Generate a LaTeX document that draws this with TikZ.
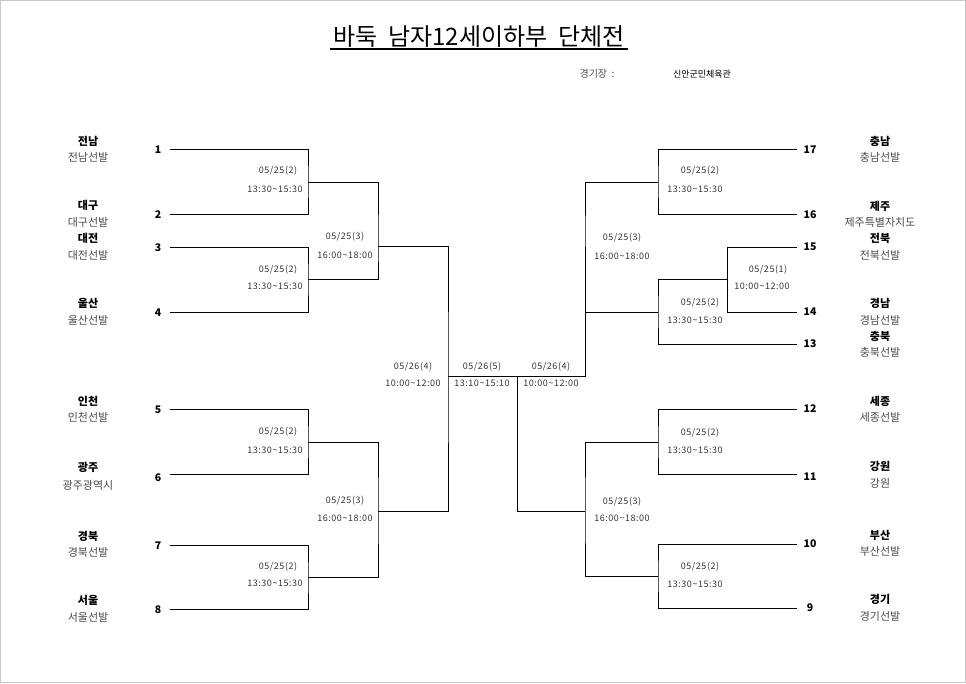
\documentclass[tikz,border=0pt]{standalone}
\usepackage{fontspec}
\setmainfont{Noto Sans CJK KR}
\newfontfamily\matchfont[LetterSpace=6]{Noto Sans CJK KR}
\definecolor{subgray}{HTML}{4A4A4A}
\definecolor{labgray}{HTML}{333333}
\definecolor{framegray}{HTML}{C8C8C8}
\newcommand{\tl}{\textasciitilde}
\tikzset{
  br/.style={line width=0.9pt, line cap=rect},
  team/.style={font=\fontsize{11}{13}\selectfont\bfseries, inner sep=0pt},
  sub/.style={font=\fontsize{11}{13}\selectfont, text=subgray, inner sep=0pt},
  num/.style={font=\fontsize{10.5}{12}\selectfont\bfseries, inner sep=0pt},
  mlab/.style={font=\matchfont\fontsize{9}{10}\selectfont, text=labgray, inner sep=0pt},
}
\begin{document}
\begin{tikzpicture}[x=1pt,y=-1pt]
\useasboundingbox (0,0) rectangle (966,683);
\draw[framegray, line width=1pt] (0.5,0.5) rectangle (965.5,682.5);

% title
\node[font=\fontsize{24}{28}\selectfont, inner sep=0pt] (title) at (479,37) {바둑\ \ 남자12세이하부\ \ 단체전};
\coordinate (ul1) at (330,49);
\coordinate (ul2) at (628,49);
\draw[line width=1.2pt] (ul1) -- (ul2);
\node[font=\fontsize{10}{11}\selectfont, text=subgray, inner sep=0pt] (venueL) at (597,74) {경기장\ \ :};
\node[font=\fontsize{9}{10}\selectfont, inner sep=0pt] (venue) at (702,74) {신안군민체육관};

% left teams
\node[team] (tl1) at (88,141) {전남};  \node[sub] (sl1) at (88,157) {전남선발};
\node[team] (tl2) at (88,205) {대구};  \node[sub] (sl2) at (88,222) {대구선발};
\node[team] (tl3) at (88,238) {대전};  \node[sub] (sl3) at (88,255) {대전선발};
\node[team] (tl4) at (88,303) {울산};  \node[sub] (sl4) at (88,320) {울산선발};
\node[team] (tl5) at (88,401) {인천};  \node[sub] (sl5) at (88,417) {인천선발};
\node[team] (tl6) at (88,467) {광주};  \node[sub] (sl6) at (88,485) {광주광역시};
\node[team] (tl7) at (88,536) {경북};  \node[sub] (sl7) at (88,552) {경북선발};
\node[team] (tl8) at (88,600) {서울};  \node[sub] (sl8) at (88,617) {서울선발};

% right teams
\node[team] (tr17) at (880,141) {충남}; \node[sub] (sr17) at (880,157) {충남선발};
\node[team] (tr16) at (880,206) {제주}; \node[sub] (sr16) at (880,222) {제주특별자치도};
\node[team] (tr15) at (880,238) {전북}; \node[sub] (sr15) at (880,255) {전북선발};
\node[team] (tr14) at (880,303) {경남}; \node[sub] (sr14) at (880,320) {경남선발};
\node[team] (tr13) at (880,336) {충북}; \node[sub] (sr13) at (880,352) {충북선발};
\node[team] (tr12) at (880,401) {세종}; \node[sub] (sr12) at (880,417) {세종선발};
\node[team] (tr11) at (880,466) {강원}; \node[sub] (sr11) at (880,483) {강원};
\node[team] (tr10) at (880,535) {부산}; \node[sub] (sr10) at (880,551) {부산선발};
\node[team] (tr9)  at (880,599) {경기}; \node[sub] (sr9)  at (880,616) {경기선발};

% seed numbers
\node[num] (n1) at (158,150) {1};
\node[num] (n2) at (158,215) {2};
\node[num] (n3) at (158,248) {3};
\node[num] (n4) at (158,313) {4};
\node[num] (n5) at (158,410) {5};
\node[num] (n6) at (158,478) {6};
\node[num] (n7) at (158,546) {7};
\node[num] (n8) at (158,610) {8};
\node[num] (n17) at (810,150) {17};
\node[num] (n16) at (810,215) {16};
\node[num] (n15) at (810,247) {15};
\node[num] (n14) at (810,312) {14};
\node[num] (n13) at (810,344) {13};
\node[num] (n12) at (810,409) {12};
\node[num] (n11) at (810,477) {11};
\node[num] (n10) at (810,544) {10};
\node[num] (n9)  at (810,608) {9};

% bracket coordinates, left
\coordinate (a1) at (170,149); \coordinate (a2) at (170,214);
\coordinate (a3) at (170,247); \coordinate (a4) at (170,312);
\coordinate (a5) at (170,409); \coordinate (a6) at (170,474);
\coordinate (a7) at (170,545); \coordinate (a8) at (170,609);
\coordinate (j1) at (308,182); \coordinate (j2) at (308,279);
\coordinate (j3) at (308,442); \coordinate (j4) at (308,577);
\coordinate (q1) at (378,246); \coordinate (q2) at (378,511);
\coordinate (s1) at (448,376); \coordinate (s2) at (517,376);
% bracket coordinates, right
\coordinate (b17) at (797,149); \coordinate (b16) at (797,214);
\coordinate (b15) at (797,247); \coordinate (b14) at (797,312);
\coordinate (b13) at (797,344); \coordinate (b12) at (797,409);
\coordinate (b11) at (797,474); \coordinate (b10) at (797,544);
\coordinate (b9)  at (797,608);
\coordinate (t1) at (727,279);
\coordinate (p1) at (658,182); \coordinate (p2) at (658,312);
\coordinate (p3) at (658,442); \coordinate (p4) at (658,576);
\coordinate (r1) at (585,247); \coordinate (r2) at (585,511);

% left brackets
\draw[br] (a1) -| (j1) |- (a2);
\draw[br] (a3) -| (j2) |- (a4);
\draw[br] (a5) -| (j3) |- (a6);
\draw[br] (a7) -| (j4) |- (a8);
\draw[br] (j1) -| (q1) |- (j2);
\draw[br] (j3) -| (q2) |- (j4);
\draw[br] (q1) -| (s1) |- (q2);
\draw[br] (s1) -- (s2);
% right brackets
\draw[br] (r1) |- (s2) |- (r2);
\draw[br] (b17) -| (p1) |- (b16);
\draw[br] (b15) -| (t1) |- (b14);
\draw[br] (t1) -| (p2) |- (b13);
\draw[br] (b12) -| (p3) |- (b11);
\draw[br] (b10) -| (p4) |- (b9);
\draw[br] (p1) -| (r1) |- (p2);
\draw[br] (p3) -| (r2) |- (p4);

% match labels, left
\node[mlab] (ml1d) at (278,171) {05/25(2)}; \node[mlab] (ml1t) at (275,189) {13:30\tl 15:30};
\node[mlab] (ml2d) at (278,270) {05/25(2)}; \node[mlab] (ml2t) at (275,286) {13:30\tl 15:30};
\node[mlab] (ml3d) at (278,432) {05/25(2)}; \node[mlab] (ml3t) at (275,450) {13:30\tl 15:30};
\node[mlab] (ml4d) at (278,567) {05/25(2)}; \node[mlab] (ml4t) at (275,583) {13:30\tl 15:30};
\node[mlab] (ml5d) at (345,237) {05/25(3)}; \node[mlab] (ml5t) at (345,255) {16:00\tl 18:00};
\node[mlab] (ml6d) at (345,501) {05/25(3)}; \node[mlab] (ml6t) at (345,518) {16:00\tl 18:00};
% center
\node[mlab] (mc1d) at (413,367) {05/26(4)}; \node[mlab] (mc1t) at (413,383) {10:00\tl 12:00};
\node[mlab] (mc2d) at (482,367) {05/26(5)}; \node[mlab] (mc2t) at (482,383) {13:10\tl 15:10};
\node[mlab] (mc3d) at (551,367) {05/26(4)}; \node[mlab] (mc3t) at (551,383) {10:00\tl 12:00};
% right
\node[mlab] (mr1d) at (700,171) {05/25(2)}; \node[mlab] (mr1t) at (695,189) {13:30\tl 15:30};
\node[mlab] (mr2d) at (768,270) {05/25(1)}; \node[mlab] (mr2t) at (762,286) {10:00\tl 12:00};
\node[mlab] (mr3d) at (700,303) {05/25(2)}; \node[mlab] (mr3t) at (695,320) {13:30\tl 15:30};
\node[mlab] (mr4d) at (700,433) {05/25(2)}; \node[mlab] (mr4t) at (695,450) {13:30\tl 15:30};
\node[mlab] (mr5d) at (700,567) {05/25(2)}; \node[mlab] (mr5t) at (695,584) {13:30\tl 15:30};
\node[mlab] (mr6d) at (622,238) {05/25(3)}; \node[mlab] (mr6t) at (622,256) {16:00\tl 18:00};
\node[mlab] (mr7d) at (622,502) {05/25(3)}; \node[mlab] (mr7t) at (622,518) {16:00\tl 18:00};
\end{tikzpicture}
\end{document}
